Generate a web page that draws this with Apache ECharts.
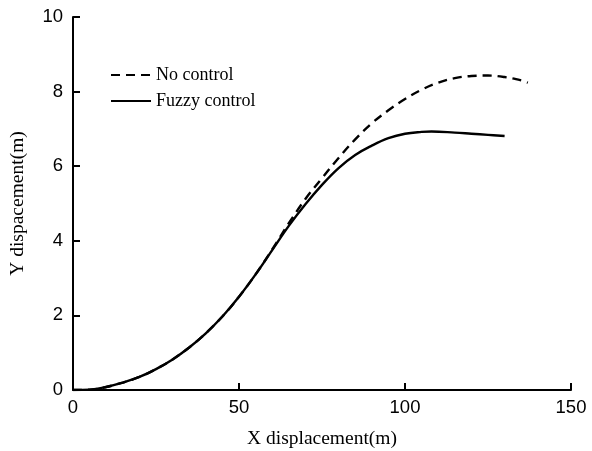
<!DOCTYPE html>
<html>
<head>
<meta charset="utf-8">
<script src="https://cdn.jsdelivr.net/npm/echarts@6/dist/echarts.min.js"></script>
<style>
  html, body { margin: 0; padding: 0; background: #fff; }
  #chart { width: 592px; height: 451px; }
</style>
</head>
<body>
<div id="chart"></div>
<script>
/* data: x displacement (m) -> y displacement (m) */
let noControlX = [0, 5, 10, 15, 20, 25, 30, 35, 40, 45, 50, 55, 60, 65, 70, 75, 80, 85, 90, 95, 100, 105, 110, 115, 120, 125, 130, 135, 137];
let noControlY = [0, 0.01, 0.08, 0.2, 0.35, 0.56, 0.82, 1.14, 1.52, 1.97, 2.5, 3.1, 3.77, 4.47, 5.12, 5.68, 6.22, 6.72, 7.15, 7.5, 7.8, 8.05, 8.24, 8.36, 8.42, 8.43, 8.39, 8.3, 8.24];
let fuzzyX = [0, 5, 10, 15, 20, 25, 30, 35, 40, 45, 50, 55, 60, 65, 70, 75, 80, 85, 90, 95, 100, 105, 108, 115, 120, 125, 130];
let fuzzyY = [0, 0.01, 0.08, 0.2, 0.35, 0.56, 0.82, 1.14, 1.52, 1.97, 2.5, 3.1, 3.75, 4.4, 4.98, 5.5, 5.95, 6.3, 6.55, 6.75, 6.87, 6.92, 6.93, 6.9, 6.87, 6.84, 6.81];
let xTicks = [0, 50, 100, 150];
let yTicks = [0, 2, 4, 6, 8, 10];

function pairs(xs, ys) {
  return xs.map(function (x, i) { return [x, ys[i]]; });
}

let numFont = "Liberation Sans, Arial, sans-serif";
let txtFont = "Liberation Serif, Times New Roman, serif";

let myChart = echarts.init(document.getElementById("chart"));
let option = {
  animation: false,
  grid: { left: 73, right: 21, top: 17, bottom: 61, outerBoundsMode: "none" },
  legend: {
    orient: "vertical",
    left: 105,
    top: 61,
    itemWidth: 40,
    itemHeight: 12,
    itemGap: 8,
    itemStyle: { opacity: 0 },
    textStyle: { fontFamily: txtFont, fontSize: 18, color: "#000" },
    data: ["No control", "Fuzzy control"],
  },
  xAxis: {
    type: "value",
    min: 0,
    max: 150,
    interval: 50,
    name: "X displacement(m)",
    nameLocation: "middle",
    nameGap: 39,
    nameTextStyle: { fontFamily: txtFont, fontSize: 19.5, color: "#000" },
    axisLine: { show: true, lineStyle: { color: "#000", width: 2 } },
    axisTick: { show: true, inside: true, length: 7, lineStyle: { color: "#000", width: 2 } },
    axisLabel: { fontFamily: numFont, fontSize: 18.5, color: "#000", margin: 8 },
    splitLine: { show: false },
  },
  yAxis: {
    type: "value",
    min: 0,
    max: 10,
    interval: 2,
    name: "Y dispacement(m)",
    nameLocation: "middle",
    nameGap: 45,
    nameTextStyle: { fontFamily: txtFont, fontSize: 19.5, color: "#000" },
    axisLine: { show: true, lineStyle: { color: "#000", width: 2 } },
    axisTick: { show: true, inside: true, length: 7, lineStyle: { color: "#000", width: 2 } },
    axisLabel: { fontFamily: numFont, fontSize: 18.5, color: "#000", margin: 10 },
    splitLine: { show: false },
  },
  series: [
    {
      name: "No control",
      type: "line",
      smooth: 0.4,
      symbol: "none",
      data: pairs(noControlX, noControlY),
      lineStyle: { color: "#000", width: 2.4, type: [9, 6] },
      itemStyle: { color: "#000" },
      z: 2,
    },
    {
      name: "Fuzzy control",
      type: "line",
      smooth: 0.4,
      symbol: "none",
      data: pairs(fuzzyX, fuzzyY),
      lineStyle: { color: "#000", width: 2.4, type: "solid" },
      itemStyle: { color: "#000" },
      z: 3,
    },
  ],
};
myChart.setOption(option);
</script>
</body>
</html>
